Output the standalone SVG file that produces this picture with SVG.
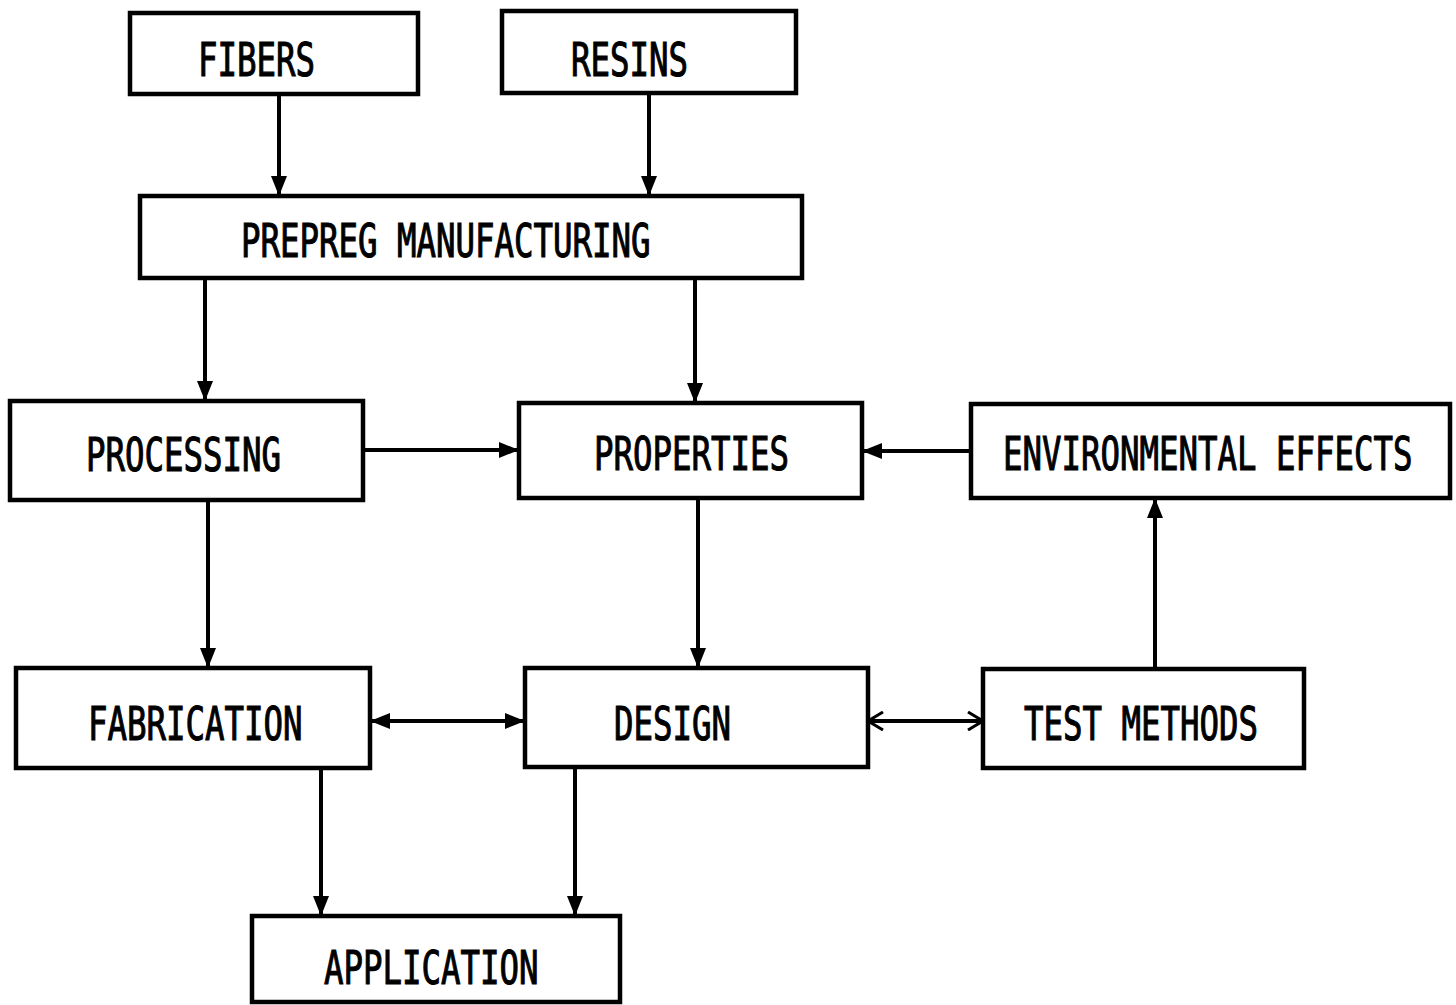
<svg xmlns="http://www.w3.org/2000/svg" width="1456" height="1005" viewBox="0 0 1456 1005">
<style>
.box{fill:#fff;stroke:#000;stroke-width:4.5}
.lbl{font-family:"DejaVu Sans Mono","Liberation Mono",monospace;font-size:32.4px;fill:#000;stroke:#000;stroke-width:0.8}
.c{stroke:#000;stroke-width:4;fill:none}
</style>
<defs>
<marker id="a" markerUnits="userSpaceOnUse" markerWidth="22" markerHeight="18" refX="20" refY="9" orient="auto-start-reverse">
<path d="M0,1 L20,9 L0,17 Z" fill="#000"/>
</marker>
<marker id="o" markerUnits="userSpaceOnUse" markerWidth="20" markerHeight="20" refX="17" refY="10" orient="auto-start-reverse">
<path d="M2,1 L17,10 L2,19" fill="none" stroke="#000" stroke-width="3"/>
</marker>
</defs>
<rect width="1456" height="1005" fill="#fff"/>
<g id="connectors">
<line class="c" x1="279" y1="94" x2="279" y2="196" marker-end="url(#a)"/>
<line class="c" x1="649" y1="93" x2="649" y2="196" marker-end="url(#a)"/>
<line class="c" x1="205" y1="278" x2="205" y2="401" marker-end="url(#a)"/>
<line class="c" x1="695" y1="278" x2="695" y2="403" marker-end="url(#a)"/>
<line class="c" x1="363" y1="450" x2="519" y2="450" marker-end="url(#a)"/>
<line class="c" x1="971" y1="451" x2="862" y2="451" marker-end="url(#a)"/>
<line class="c" x1="208" y1="500" x2="208" y2="668" marker-end="url(#a)"/>
<line class="c" x1="698" y1="498" x2="698" y2="668" marker-end="url(#a)"/>
<line class="c" x1="1155" y1="669" x2="1155" y2="498" marker-end="url(#a)"/>
<line class="c" x1="370" y1="721" x2="525" y2="721" marker-start="url(#a)" marker-end="url(#a)"/>
<line class="c" x1="868" y1="721" x2="983" y2="721" marker-start="url(#o)" marker-end="url(#o)"/>
<line class="c" x1="321" y1="768" x2="321" y2="916" marker-end="url(#a)"/>
<line class="c" x1="575" y1="767" x2="575" y2="916" marker-end="url(#a)"/>
</g>
<g id="fibers"><rect class="box" x="130" y="13" width="288" height="81"/><text class="lbl" transform="translate(198,76) scale(1,1.4)">FIBERS</text></g>
<g id="resins"><rect class="box" x="502" y="11" width="294" height="82"/><text class="lbl" transform="translate(571,76) scale(1,1.4)">RESINS</text></g>
<g id="prepreg"><rect class="box" x="140" y="196" width="662" height="82"/><text class="lbl" transform="translate(241,257) scale(1,1.4)">PREPREG MANUFACTURING</text></g>
<g id="processing"><rect class="box" x="10" y="401" width="353" height="99"/><text class="lbl" transform="translate(86,471) scale(1,1.4)">PROCESSING</text></g>
<g id="properties"><rect class="box" x="519" y="403" width="343" height="95"/><text class="lbl" transform="translate(594,470) scale(1,1.4)">PROPERTIES</text></g>
<g id="environmental"><rect class="box" x="971" y="404" width="479" height="94"/><text class="lbl" transform="translate(1003,470) scale(1,1.4)">ENVIRONMENTAL EFFECTS</text></g>
<g id="fabrication"><rect class="box" x="16" y="668" width="354" height="100"/><text class="lbl" transform="translate(88,740) scale(1,1.4)">FABRICATION</text></g>
<g id="design"><rect class="box" x="525" y="668" width="343" height="99"/><text class="lbl" transform="translate(614,740) scale(1,1.4)">DESIGN</text></g>
<g id="test-methods"><rect class="box" x="983" y="669" width="321" height="99"/><text class="lbl" transform="translate(1024,740) scale(1,1.4)">TEST METHODS</text></g>
<g id="application"><rect class="box" x="252" y="916" width="368" height="86"/><text class="lbl" transform="translate(324,984) scale(1,1.4)">APPLICATION</text></g>
</svg>
